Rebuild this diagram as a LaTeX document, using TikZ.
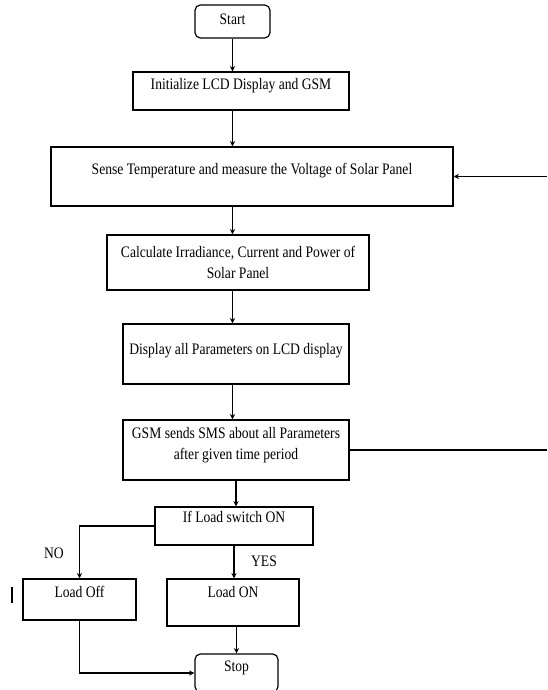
\documentclass[tikz,border=0pt]{standalone}
\usepackage{fontspec}
\setmainfont{Liberation Serif}[FakeStretch=0.85]
\usepackage{tikz}
\usetikzlibrary{arrows.meta,positioning,calc}
\tikzset{
  blk/.style={draw=black, line width=0.9pt, align=center, inner sep=2pt,
              font=\fontsize{12}{15.75}\selectfont},
  term/.style={blk, rounded corners=4pt},
  flowarr/.style={-{Stealth[length=4pt,width=4pt]}, line width=0.9pt},
  flowline/.style={line width=0.9pt},
  lbl/.style={font=\fontsize{12}{13}\selectfont, inner sep=0pt},
}

\begin{document}
\begin{tikzpicture}[x=0.75pt,y=-0.75pt]
  \useasboundingbox (0,0) rectangle (547,690);
  % process boxes, top to bottom
  \node[term, minimum width=56.25pt, minimum height=24.75pt, text depth=4pt] (start) at (232.5,21.5) {Start};
  \node[blk, minimum width=162pt, minimum height=28.5pt, text depth=10pt] (init) at (241,91)
       {Initialize LCD Display and GSM};
  \node[blk, minimum width=301.5pt, minimum height=44.25pt, text depth=12pt] (sense) at (252,176.5)
       {Sense Temperature and measure the Voltage of Solar Panel};
  \node[blk, minimum width=196.5pt, minimum height=41.25pt] (calc) at (238,262.5)
       {Calculate Irradiance, Current and Power of\\ Solar Panel};
  \node[blk, minimum width=169.5pt, minimum height=45pt, text depth=7pt] (disp) at (236,354)
       {Display all Parameters on LCD display};
  \node[blk, minimum width=169.5pt, minimum height=45pt, text depth=10pt] (gsm) at (236,450)
       {GSM sends SMS about all Parameters\\ after given time period};
  \node[blk, minimum width=118.5pt, minimum height=28.5pt, text depth=14pt] (ifload) at (234,526)
       {If Load switch ON};
  \node[blk, minimum width=84.75pt, minimum height=30.75pt, text depth=12pt] (loadoff) at (79.5,599.5) {Load Off};
  \node[blk, minimum width=99pt, minimum height=35.25pt, text depth=16.5pt] (loadon) at (233,602.5) {Load ON};
  \node[term, minimum width=62.25pt, minimum height=28.5pt, text depth=10pt] (stop) at (236.5,673) {Stop};

  % branch labels
  \node[lbl] (no) at (54,553) {NO};
  \node[lbl] (yes) at (264,561) {YES};

  % loop back on the right edge
  \coordinate (rgt) at (547,0);

  % connectors
  \draw[flowarr] (start.south) -- (start.south |- init.north);
  \draw[flowarr] (init.south -| start.south) -- (sense.north -| start.south);
  \draw[flowarr] (sense.south -| start.south) -- (calc.north -| start.south);
  \draw[flowarr] (calc.south -| start.south) -- (disp.north -| start.south);
  \draw[flowarr] (disp.south -| start.south) -- (gsm.north -| start.south);
  \draw[flowarr] (gsm.south) -- (gsm.south |- ifload.north);
  \draw[flowarr] (ifload.south) -- (ifload.south |- loadon.north);
  \draw[flowarr] (ifload.west) -| (loadoff.north);
  \draw[flowarr] (stop.north |- loadon.south) -- (stop.north);
  \draw[flowarr] (loadoff.south) |- (stop.west);
  \draw[flowline] (gsm.east) -- (gsm.east -| rgt);
  \draw[flowarr] (sense.east -| rgt) -- (sense.east);

  % stray mark left of Load Off
  \draw[line width=2.2pt] (12,587) -- (12,603);
\end{tikzpicture}
\end{document}
